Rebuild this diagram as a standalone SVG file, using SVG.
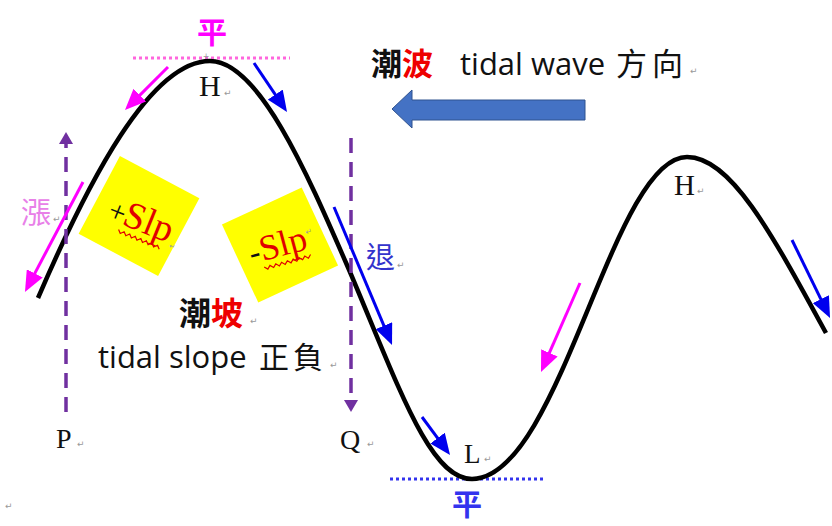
<svg xmlns="http://www.w3.org/2000/svg" width="832" height="526" viewBox="0 0 832 526">
<defs>
<style>
.cjk{font-family:"Noto Sans CJK TC","Noto Sans CJK SC",sans-serif;}
.ser{font-family:"Liberation Serif","Times New Roman",serif;fill:#111;}
.san{font-family:"Open Sans","Noto Sans CJK TC",sans-serif;fill:#111;}
.pm{font-family:"DejaVu Sans",sans-serif;font-size:9px;fill:#999;}
.mag{stroke:#ff00ff;stroke-width:3;fill:none;marker-end:url(#mh);}
.blu{stroke:#0000ee;stroke-width:3;fill:none;marker-end:url(#bh);}
.pur{stroke:#7030a0;stroke-width:3.5;stroke-dasharray:15 9;fill:none;}
.wav{stroke:#e00000;stroke-width:1.2;fill:none;}
</style>
<marker id="mh" markerUnits="userSpaceOnUse" markerWidth="21" markerHeight="18" refX="7" refY="9" orient="auto"><path d="M0,0 L21,9 L0,18 z" fill="#ff00ff"/></marker>
<marker id="bh" markerUnits="userSpaceOnUse" markerWidth="21" markerHeight="18" refX="7" refY="9" orient="auto"><path d="M0,0 L21,9 L0,18 z" fill="#0000ee"/></marker>
<marker id="ph" markerUnits="userSpaceOnUse" markerWidth="12" markerHeight="14" refX="2" refY="7" orient="auto"><path d="M0,0 L12,7 L0,14 z" fill="#7030a0"/></marker>
</defs>
<rect width="832" height="526" fill="#fff"/>

<g id="levels">
<line x1="133" y1="58" x2="290" y2="58" stroke="#ff66dd" stroke-width="3" stroke-dasharray="3 3"/>
<line x1="390" y1="479" x2="546" y2="479" stroke="#3333ee" stroke-width="3" stroke-dasharray="3 3"/>
</g>

<g id="squares">
<rect x="-45" y="-44" width="90" height="88" fill="#ffff00" transform="translate(139,216) rotate(28)"/>
<rect x="-44" y="-43" width="88" height="86" fill="#ffff00" transform="translate(280,245) rotate(-25)"/>
</g>

<g id="wave">
<path d="M38,298 C88,182 150,61 210,61 C260,61 310,180 350,272 C400,390 430,479 472,479 C560,479 612,157 687,157 C730,157 770,230 826,333" fill="none" stroke="#000" stroke-width="4.5"/>
</g>

<g id="connectors">
<line class="pur" x1="66" y1="412" x2="66" y2="142" marker-end="url(#ph)"/>
<line class="pur" x1="351" y1="138" x2="351" y2="402" marker-end="url(#ph)"/>
<line class="mag" x1="168" y1="67" x2="134.9" y2="100.1"/>
<line class="blu" x1="254" y1="63" x2="279.2" y2="100.4"/>
<line class="mag" x1="83" y1="182" x2="31.5" y2="279.6"/>
<line class="blu" x1="334" y1="207" x2="386.6" y2="332.1"/>
<line class="blu" x1="422" y1="417" x2="441.7" y2="443.7"/>
<line class="mag" x1="580" y1="283" x2="546.6" y2="359.2"/>
<line class="blu" x1="792" y1="240" x2="823.9" y2="305.4"/>
<polygon id="wave-dir" points="392,109 412,90 412,100 585,100 585,120 412,120 412,128" fill="#4472c4" stroke="#2f528f" stroke-width="1"/>
</g>

<g id="title">
<text y="75" font-size="31" font-weight="bold" class="cjk"><tspan x="371" fill="#111">潮</tspan><tspan fill="#ee0000">波</tspan></text>
<text x="460" y="75" font-size="31" class="san">tidal wave</text>
<text x="616" y="75" font-size="31" class="cjk" fill="#111" letter-spacing="5">方向</text>
<text x="690" y="74" class="pm">↵</text>
</g>

<g id="label-top">
<text x="212" y="43" font-size="30" font-weight="bold" class="cjk" fill="#ff00ff" text-anchor="middle">平</text>
<text x="206" y="59" font-size="8" class="pm" text-anchor="middle" style="font-size:8px">+</text>
<text x="199" y="96" font-size="30" class="ser">H</text>
<text x="224" y="96" class="pm">↵</text>
</g>

<g id="label-rise">
<text x="21" y="223" font-size="30" class="cjk" fill="#e880e8">漲</text>
<text x="53" y="222" class="pm">↵</text>
</g>

<g id="label-fall">
<text x="366" y="268" font-size="29" class="cjk" fill="#3333cc">退</text>
<text x="397" y="268" class="pm">↵</text>
</g>

<g id="slp-pos" transform="translate(106,218) rotate(22)">
<text x="0" y="0" font-size="30" class="ser">+</text>
<text x="16" y="0" font-size="38" class="ser" style="fill:#e00000">Slp</text>
<path class="wav" d="M16,6 l3,3 l3,-3 l3,3 l3,-3 l3,3 l3,-3 l3,3 l3,-3 l3,3 l3,-3 l3,3 l3,-3 l3,3 l3,-3 l3,3"/>
<text x="69" y="4" class="pm" style="font-size:7px">↵</text>
</g>

<g id="slp-neg" transform="translate(252,264) rotate(-15)">
<text x="0" y="0" font-size="32" class="ser">-</text>
<text x="11" y="0" font-size="36" class="ser" style="fill:#e00000">Slp</text>
<path class="wav" d="M11,6 l3,3 l3,-3 l3,3 l3,-3 l3,3 l3,-3 l3,3 l3,-3 l3,3 l3,-3 l3,3 l3,-3 l3,3 l3,-3 l3,3 l3,-3"/>
<text x="60" y="-14" class="pm" style="font-size:8px">↵</text>
</g>

<g id="slope-label">
<text y="325" font-size="32" font-weight="bold" class="cjk"><tspan x="179" fill="#111">潮</tspan><tspan fill="#ee0000">坡</tspan></text>
<text x="250" y="324" class="pm">↵</text>
<text x="98" y="368" font-size="31" class="san">tidal slope</text>
<text x="259" y="368" font-size="30" class="cjk" fill="#111" letter-spacing="4">正負</text>
<text x="330" y="368" class="pm">↵</text>
</g>

<g id="label-P"><text x="56" y="448" font-size="28" class="ser">P</text><text x="77" y="447" class="pm">↵</text></g>
<g id="label-Q"><text x="340" y="449" font-size="28" class="ser">Q</text><text x="367" y="447" class="pm">↵</text></g>
<g id="label-L">
<text x="464" y="463" font-size="27" class="ser">L</text><text x="484" y="462" class="pm">↵</text>
<text x="467" y="515" font-size="30" font-weight="bold" class="cjk" fill="#3333ee" text-anchor="middle">平</text>
</g>
<g id="label-H2"><text x="674" y="195" font-size="29" class="ser">H</text><text x="697" y="194" class="pm">↵</text></g>
<text x="5" y="509" class="pm">↵</text>
</svg>
